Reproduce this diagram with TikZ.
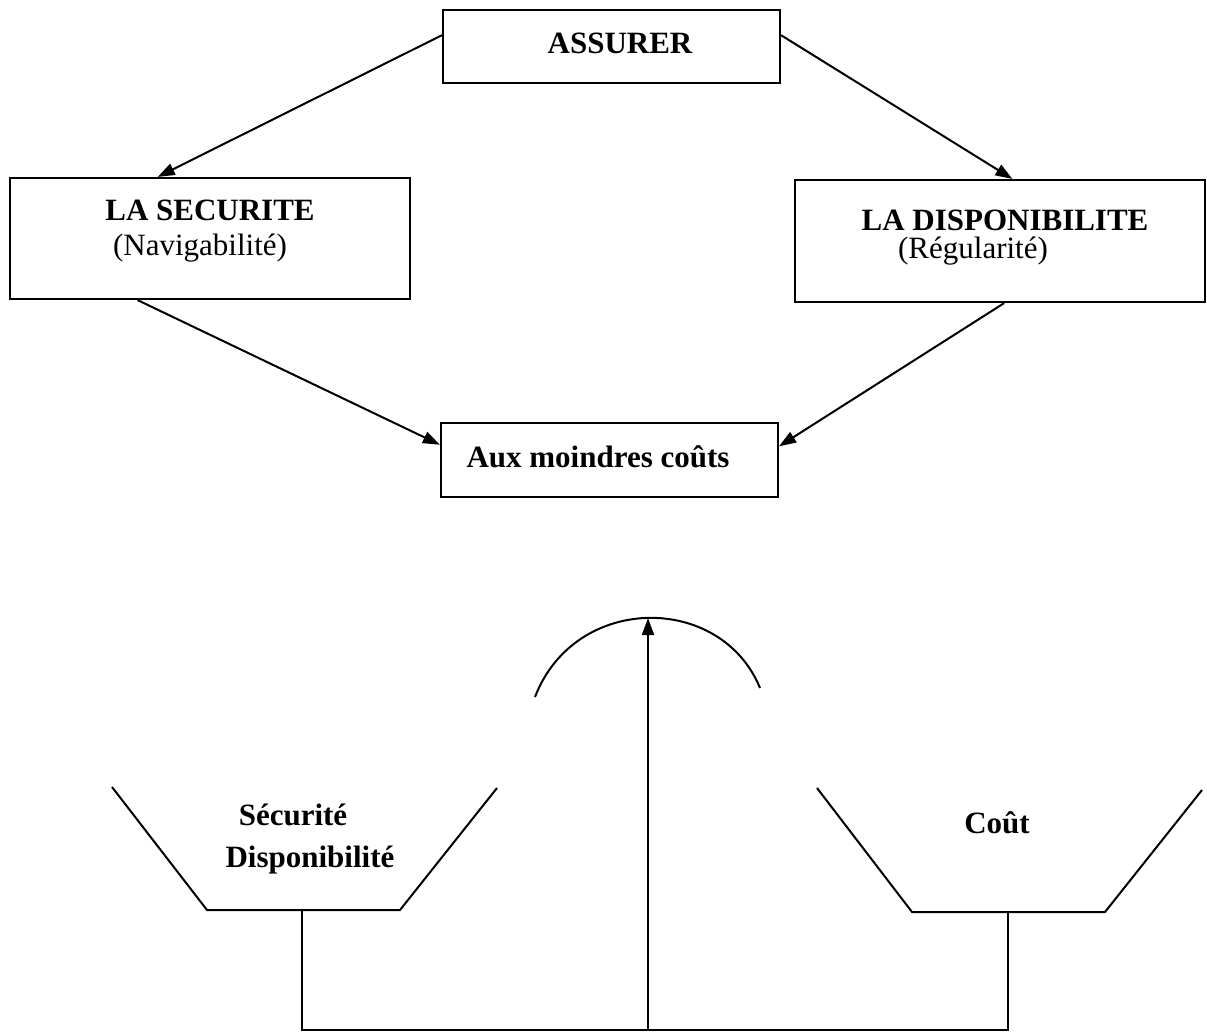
\documentclass[tikz,border=0pt]{standalone}
\usepackage{fontspec}
\setmainfont{Liberation Serif}
\usetikzlibrary{arrows.meta, positioning, calc}

\tikzset{
  cadre/.style={draw, line width=2.2pt, inner sep=0pt},
  titre/.style={font=\fontsize{31}{36}\selectfont\bfseries, inner sep=0pt, anchor=base},
  sous/.style={font=\fontsize{31}{36}\selectfont, inner sep=0pt, anchor=base},
  fleche/.style={-{Triangle[length=17pt,width=12pt]}},
}

\begin{document}
\begin{tikzpicture}[x=1pt, y=-1pt, line width=2pt]
        \useasboundingbox (0,0) rectangle (1207,1033);
        % Boxes
        \node[cadre, minimum width=337pt, minimum height=73pt] (assurer) at (611.5,46.5) {};
        \node[cadre, minimum width=400pt, minimum height=121pt] (secu) at (210,238.5) {};
        \node[cadre, minimum width=410pt, minimum height=122pt] (dispo) at (1000,241) {};
        \node[cadre, minimum width=337pt, minimum height=74pt] (cout) at (609.5,460) {};
        % Box texts
        \node[titre] (assurerT) at (620,54) {ASSURER};
        \node[titre] (secuT) at (210,220) {LA SECURITE};
        \node[sous] (secuS) at (200,255) {(Navigabilité)};
        \node[titre] (dispoT) at (1005,230) {LA DISPONIBILITE};
        \node[sous] (dispoS) at (973,258) {(Régularité)};
        \node[titre] (coutT) at (598,467) {Aux moindres coûts};
        % Arrows
        \draw[fleche] ($(assurer.north west)!0.35!(assurer.south west)$) -- ($(secu.north west)!0.37!(secu.north east)$);
        \draw[fleche] ($(assurer.north east)!0.35!(assurer.south east)$) -- ($(dispo.north west)!0.53!(dispo.north east)$);
        \draw[fleche] ($(secu.south west)!0.32!(secu.south east)$) -- ($(cout.north west)!0.3!(cout.south west)$);
        \draw[fleche] ($(dispo.south west)!0.51!(dispo.south east)$) -- ($(cout.north east)!0.32!(cout.south east)$);
        % Balance
        \coordinate (sommet) at (648,618);
        \coordinate (pied) at (648,1030);
        \draw (535,697) .. controls (575,593) and (721,593) .. (760,688);
        \draw[fleche] (pied) -- (sommet);
        % Plates
        \draw (112,787) -- (207,910) -- (400,910) -- (497,788);
        \draw (817,788) -- (912,912) -- (1105,912) -- (1202,790);
        \draw (302,910) -- (302,1030) -- (1008,1030) -- (1008,912);
        \node[titre] (secuP) at (293,825) {Sécurité};
        \node[titre] (dispoP) at (310,867) {Disponibilité};
        \node[titre] (coutP) at (997,833) {Coût};
    \end{tikzpicture}
\end{document}
